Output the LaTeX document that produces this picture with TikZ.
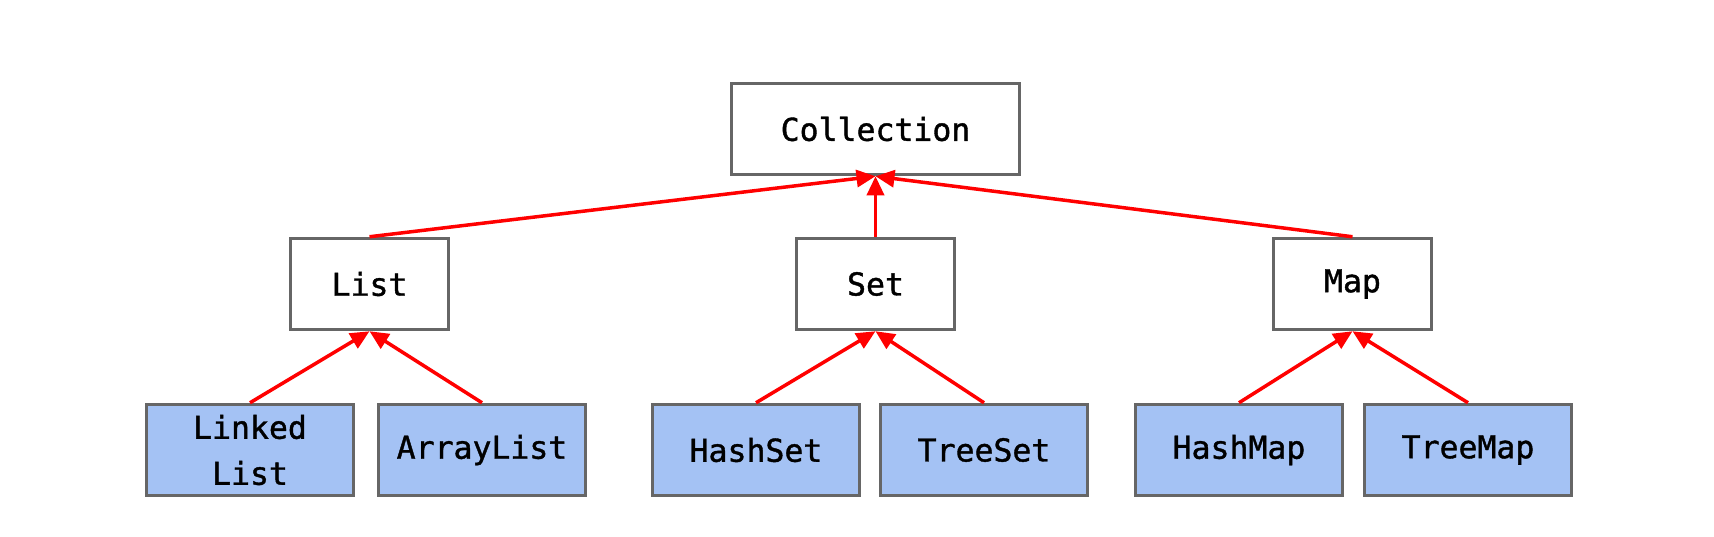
\documentclass[tikz,border=0pt]{standalone}
\usepackage{fontspec}
\setmonofont[FakeBold=1.2]{DejaVu Sans Mono}
\usetikzlibrary{arrows.meta}
\definecolor{boxgray}{HTML}{666666}
\definecolor{leafblue}{HTML}{A4C2F4}
\definecolor{linkred}{HTML}{FF0000}
\begin{document}
\begin{tikzpicture}[x=1pt,y=-1pt,
  box/.style={draw=boxgray, line width=3.5pt, fill=white, inner sep=0pt,
    minimum height=91pt, align=center,
    font=\ttfamily\fontsize{31.5}{46}\selectfont},
  leaf/.style={box, fill=leafblue, minimum width=207pt},
  mid/.style={box, minimum width=158pt},
  link/.style={draw=linkred, line width=3.5pt,
    -{Triangle[length=19pt,width=17pt]}}]
\useasboundingbox (0,0) rectangle (1714,536);
\node[box, minimum width=288pt] (coll) at (875.5,129) {Collection};
\node[mid] (list) at (369.5,284) {List};
\node[mid] (set) at (875.5,284) {Set};
\node[mid] (map) at (1352.5,284) {Map};
\node[leaf] (ll) at (250,450) {Linked\\List};
\node[leaf] (al) at (482,450) {ArrayList};
\node[leaf] (hs) at (756,450) {HashSet};
\node[leaf] (ts) at (984,450) {TreeSet};
\node[leaf] (hm) at (1239,450) {HashMap};
\node[leaf] (tm) at (1468,450) {TreeMap};
\draw[link] (list.north) -- (coll.south);
\draw[link] (set.north) -- (coll.south);
\draw[link] (map.north) -- (coll.south);
\draw[link] (ll.north) -- (list.south);
\draw[link] (al.north) -- (list.south);
\draw[link] (hs.north) -- (set.south);
\draw[link] (ts.north) -- (set.south);
\draw[link] (hm.north) -- (map.south);
\draw[link] (tm.north) -- (map.south);
\end{tikzpicture}
\end{document}
